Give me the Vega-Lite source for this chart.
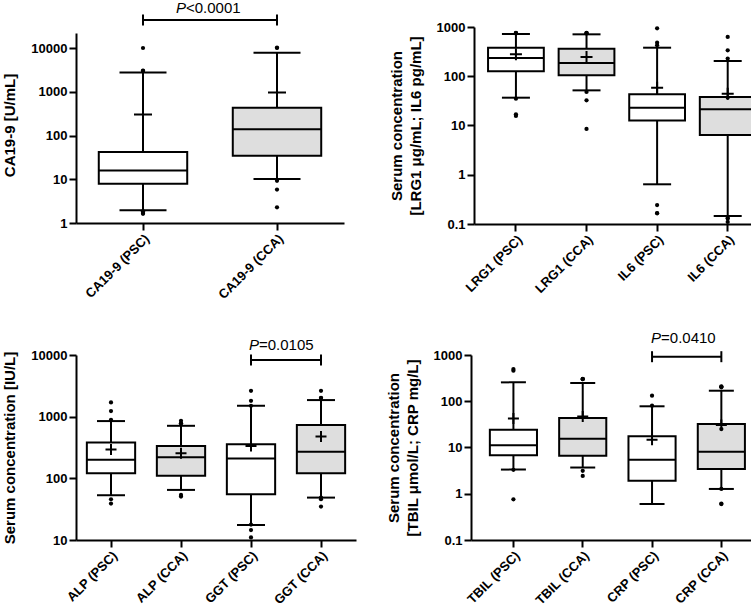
{
  "$schema": "https://vega.github.io/schema/vega-lite/v6.json",
  "padding": {"left": 2, "top": 0, "right": 0, "bottom": 0},
  "background": "white",
  "config": {
    "view": {"stroke": null},
    "font": "Liberation Sans",
    "axis": {
      "grid": false,
      "domainColor": "black", "domainWidth": 2,
      "tickColor": "black", "tickWidth": 2, "tickSize": 7,
      "labelColor": "black", "labelFont": "Liberation Sans", "labelFontWeight": "bold", "labelFontSize": 13, "labelPadding": 2,
      "titleColor": "black", "titleFont": "Liberation Sans", "titleFontWeight": "bold", "titleFontSize": 15, "titlePadding": 13, "titleLineHeight": 19
    },
    "axisX": {"labelAngle": -45, "labelPadding": 2, "labelFontSize": 13, "title": null}
  },
  "datasets": {
    "bx": [
      {"p": "A", "cat": "CA19-9 (PSC)", "grp": "PSC", "lo": 1.95, "q1": 7.9, "med": 15.9, "q3": 42, "hi": 2740, "mean": 301},
      {"p": "A", "cat": "CA19-9 (CCA)", "grp": "CCA", "lo": 10.1, "q1": 34.4, "med": 139, "q3": 428, "hi": 7830, "mean": 957},
      {"p": "B", "cat": "LRG1 (PSC)", "grp": "PSC", "lo": 36.7, "q1": 126, "med": 235, "q3": 380, "hi": 721, "mean": 279},
      {"p": "B", "cat": "LRG1 (CCA)", "grp": "CCA", "lo": 51.7, "q1": 104.5, "med": 186, "q3": 363, "hi": 710, "mean": 246},
      {"p": "B", "cat": "IL6 (PSC)", "grp": "PSC", "lo": 0.64, "q1": 12.7, "med": 23, "q3": 43, "hi": 380, "mean": 58.6},
      {"p": "B", "cat": "IL6 (CCA)", "grp": "CCA", "lo": 0.145, "q1": 6.4, "med": 21.3, "q3": 38, "hi": 204, "mean": 44.3},
      {"p": "C", "cat": "ALP (PSC)", "grp": "PSC", "lo": 53.2, "q1": 121, "med": 200, "q3": 381, "hi": 848, "mean": 294},
      {"p": "C", "cat": "ALP (CCA)", "grp": "CCA", "lo": 64.9, "q1": 110, "med": 220, "q3": 336, "hi": 711, "mean": 256},
      {"p": "C", "cat": "GGT (PSC)", "grp": "PSC", "lo": 17.5, "q1": 55, "med": 210, "q3": 358, "hi": 1503, "mean": 336},
      {"p": "C", "cat": "GGT (CCA)", "grp": "CCA", "lo": 48.7, "q1": 121, "med": 269, "q3": 730, "hi": 1858, "mean": 477},
      {"p": "D", "cat": "TBIL (PSC)", "grp": "PSC", "lo": 3.33, "q1": 6.8, "med": 11.2, "q3": 24.1, "hi": 256, "mean": 42.4},
      {"p": "D", "cat": "TBIL (CCA)", "grp": "CCA", "lo": 3.69, "q1": 6.6, "med": 15.4, "q3": 43.2, "hi": 248, "mean": 46.9},
      {"p": "D", "cat": "CRP (PSC)", "grp": "PSC", "lo": 0.6, "q1": 1.91, "med": 5.46, "q3": 17.5, "hi": 77.8, "mean": 14.8},
      {"p": "D", "cat": "CRP (CCA)", "grp": "CCA", "lo": 1.27, "q1": 3.43, "med": 8.1, "q3": 32.2, "hi": 169, "mean": 30.6}
    ],
    "ou": [
      {"p": "A", "cat": "CA19-9 (PSC)", "v": 10000}, {"p": "A", "cat": "CA19-9 (PSC)", "v": 3050}, {"p": "A", "cat": "CA19-9 (PSC)", "v": 3000},
      {"p": "A", "cat": "CA19-9 (PSC)", "v": 1.85}, {"p": "A", "cat": "CA19-9 (PSC)", "v": 1.7}, {"p": "A", "cat": "CA19-9 (PSC)", "v": 1.62},
      {"p": "A", "cat": "CA19-9 (CCA)", "v": 10200}, {"p": "A", "cat": "CA19-9 (CCA)", "v": 10000}, {"p": "A", "cat": "CA19-9 (CCA)", "v": 9.2},
      {"p": "A", "cat": "CA19-9 (CCA)", "v": 5.8}, {"p": "A", "cat": "CA19-9 (CCA)", "v": 2.28},
      {"p": "B", "cat": "LRG1 (PSC)", "v": 760}, {"p": "B", "cat": "LRG1 (PSC)", "v": 750}, {"p": "B", "cat": "LRG1 (PSC)", "v": 740},
      {"p": "B", "cat": "LRG1 (PSC)", "v": 35}, {"p": "B", "cat": "LRG1 (PSC)", "v": 16.9}, {"p": "B", "cat": "LRG1 (PSC)", "v": 15.6},
      {"p": "B", "cat": "LRG1 (CCA)", "v": 760}, {"p": "B", "cat": "LRG1 (CCA)", "v": 750}, {"p": "B", "cat": "LRG1 (CCA)", "v": 740},
      {"p": "B", "cat": "LRG1 (CCA)", "v": 48}, {"p": "B", "cat": "LRG1 (CCA)", "v": 32.4}, {"p": "B", "cat": "LRG1 (CCA)", "v": 8.5},
      {"p": "B", "cat": "IL6 (PSC)", "v": 942}, {"p": "B", "cat": "IL6 (PSC)", "v": 480}, {"p": "B", "cat": "IL6 (PSC)", "v": 425},
      {"p": "B", "cat": "IL6 (PSC)", "v": 0.243}, {"p": "B", "cat": "IL6 (PSC)", "v": 0.167}, {"p": "B", "cat": "IL6 (PSC)", "v": 0.165},
      {"p": "B", "cat": "IL6 (CCA)", "v": 627}, {"p": "B", "cat": "IL6 (CCA)", "v": 336}, {"p": "B", "cat": "IL6 (CCA)", "v": 228},
      {"p": "B", "cat": "IL6 (CCA)", "v": 37}, {"p": "B", "cat": "IL6 (CCA)", "v": 0.132}, {"p": "B", "cat": "IL6 (CCA)", "v": 0.13}, {"p": "B", "cat": "IL6 (CCA)", "v": 0.11},
      {"p": "C", "cat": "ALP (PSC)", "v": 1700}, {"p": "C", "cat": "ALP (PSC)", "v": 1230}, {"p": "C", "cat": "ALP (PSC)", "v": 890},
      {"p": "C", "cat": "ALP (PSC)", "v": 45.8}, {"p": "C", "cat": "ALP (PSC)", "v": 39},
      {"p": "C", "cat": "ALP (CCA)", "v": 857}, {"p": "C", "cat": "ALP (CCA)", "v": 780}, {"p": "C", "cat": "ALP (CCA)", "v": 776},
      {"p": "C", "cat": "ALP (CCA)", "v": 53.7}, {"p": "C", "cat": "ALP (CCA)", "v": 50.7},
      {"p": "C", "cat": "GGT (PSC)", "v": 2630}, {"p": "C", "cat": "GGT (PSC)", "v": 1811}, {"p": "C", "cat": "GGT (PSC)", "v": 1500},
      {"p": "C", "cat": "GGT (PSC)", "v": 17.8}, {"p": "C", "cat": "GGT (PSC)", "v": 14.5}, {"p": "C", "cat": "GGT (PSC)", "v": 11},
      {"p": "C", "cat": "GGT (CCA)", "v": 2630}, {"p": "C", "cat": "GGT (CCA)", "v": 2020}, {"p": "C", "cat": "GGT (CCA)", "v": 2000},
      {"p": "C", "cat": "GGT (CCA)", "v": 48.7}, {"p": "C", "cat": "GGT (CCA)", "v": 45.8}, {"p": "C", "cat": "GGT (CCA)", "v": 34.8},
      {"p": "D", "cat": "TBIL (PSC)", "v": 497}, {"p": "D", "cat": "TBIL (PSC)", "v": 458}, {"p": "D", "cat": "TBIL (PSC)", "v": 3.3}, {"p": "D", "cat": "TBIL (PSC)", "v": 0.76},
      {"p": "D", "cat": "TBIL (CCA)", "v": 305}, {"p": "D", "cat": "TBIL (CCA)", "v": 302}, {"p": "D", "cat": "TBIL (CCA)", "v": 300},
      {"p": "D", "cat": "TBIL (CCA)", "v": 3.13}, {"p": "D", "cat": "TBIL (CCA)", "v": 2.43},
      {"p": "D", "cat": "CRP (PSC)", "v": 132}, {"p": "D", "cat": "CRP (PSC)", "v": 80},
      {"p": "D", "cat": "CRP (CCA)", "v": 210}, {"p": "D", "cat": "CRP (CCA)", "v": 200}, {"p": "D", "cat": "CRP (CCA)", "v": 205},
      {"p": "D", "cat": "CRP (CCA)", "v": 25}, {"p": "D", "cat": "CRP (CCA)", "v": 1.27}, {"p": "D", "cat": "CRP (CCA)", "v": 0.6}, {"p": "D", "cat": "CRP (CCA)", "v": 0.61}
    ],
    "sg": [
      {"p": "A", "a": "CA19-9 (PSC)", "b": "CA19-9 (CCA)", "y": 43650, "ty": 63100, "label": "<0.0001"},
      {"p": "C", "a": "GGT (PSC)", "b": "GGT (CCA)", "y": 8300, "ty": 12050, "label": "=0.0105"},
      {"p": "D", "a": "CRP (PSC)", "b": "CRP (CCA)", "y": 919, "ty": 1820, "label": "=0.0410"}
    ]
  },
  "resolve": {"scale": {"x": "independent", "y": "independent"}},
  "spacing": 28,
  "vconcat": [
    {
      "hconcat": [
        {
          "width": 268, "height": 196,
          "layer": [
            {"data": {"name": "bx"}, "transform": [{"filter": "datum.p == 'A'"}], "mark": {"type": "rule", "color": "black", "strokeWidth": 2},
             "encoding": {
               "x": {"field": "cat", "type": "nominal", "scale": {"domain": ["CA19-9 (PSC)", "CA19-9 (CCA)"], "paddingInner": 0, "paddingOuter": 0}},
               "y": {"field": "lo", "type": "quantitative", "scale": {"type": "log", "domain": [1, 30200], "nice": false}, "axis": {"title": "CA19-9 [U/mL]", "values": [1, 10, 100, 1000, 10000], "format": "~g", "domainDash": [190, 60]}},
               "y2": {"field": "hi"}}},
            {"data": {"name": "bx"}, "transform": [{"filter": "datum.p == 'A'"}], "mark": {"type": "bar", "stroke": "black", "strokeWidth": 2, "width": {"band": 0.66}},
             "encoding": {"x": {"field": "cat", "type": "nominal"}, "y": {"field": "q1", "type": "quantitative"}, "y2": {"field": "q3"},
               "fill": {"field": "grp", "type": "nominal", "scale": {"domain": ["PSC", "CCA"], "range": ["#ffffff", "#dedede"]}, "legend": null}}},
            {"data": {"name": "bx"}, "transform": [{"filter": "datum.p == 'A'"}], "mark": {"type": "tick", "color": "black", "opacity": 1, "thickness": 2, "size": 88},
             "encoding": {"x": {"field": "cat", "type": "nominal"}, "y": {"field": "med", "type": "quantitative"}}},
            {"data": {"name": "bx"}, "transform": [{"filter": "datum.p == 'A'"}], "mark": {"type": "tick", "color": "black", "opacity": 1, "thickness": 2, "size": 47},
             "encoding": {"x": {"field": "cat", "type": "nominal"}, "y": {"field": "lo", "type": "quantitative"}}},
            {"data": {"name": "bx"}, "transform": [{"filter": "datum.p == 'A'"}], "mark": {"type": "tick", "color": "black", "opacity": 1, "thickness": 2, "size": 47},
             "encoding": {"x": {"field": "cat", "type": "nominal"}, "y": {"field": "hi", "type": "quantitative"}}},
            {"data": {"name": "bx"}, "transform": [{"filter": "datum.p == 'A'"}], "mark": {"type": "point", "shape": "M-1,0L1,0M0,-1L0,1", "filled": false, "color": "black", "opacity": 1, "strokeWidth": 2, "size": 324},
             "encoding": {"x": {"field": "cat", "type": "nominal"}, "y": {"field": "mean", "type": "quantitative"}}},
            {"data": {"name": "ou"}, "transform": [{"filter": "datum.p == 'A'"}], "mark": {"type": "circle", "color": "black", "opacity": 1, "size": 18},
             "encoding": {"x": {"field": "cat", "type": "nominal"}, "y": {"field": "v", "type": "quantitative"}}},
            {"data": {"name": "sg"}, "transform": [{"filter": "datum.p == 'A'"}], "mark": {"type": "rule", "color": "black", "strokeWidth": 2},
             "encoding": {"x": {"field": "a", "type": "nominal"}, "x2": {"field": "b"}, "y": {"field": "y", "type": "quantitative"}}},
            {"data": {"name": "sg"}, "transform": [{"filter": "datum.p == 'A'"}], "mark": {"type": "point", "shape": "M0,-1L0,1", "filled": false, "color": "black", "opacity": 1, "strokeWidth": 2, "size": 121},
             "encoding": {"x": {"field": "a", "type": "nominal"}, "y": {"field": "y", "type": "quantitative"}}},
            {"data": {"name": "sg"}, "transform": [{"filter": "datum.p == 'A'"}], "mark": {"type": "point", "shape": "M0,-1L0,1", "filled": false, "color": "black", "opacity": 1, "strokeWidth": 2, "size": 121},
             "encoding": {"x": {"field": "b", "type": "nominal"}, "y": {"field": "y", "type": "quantitative"}}},
            {"data": {"name": "sg"}, "transform": [{"filter": "datum.p == 'A'"}], "mark": {"type": "text", "text": "P", "fontStyle": "italic", "fontSize": 15, "align": "left", "baseline": "alphabetic", "dx": 33, "color": "black"},
             "encoding": {"x": {"field": "a", "type": "nominal"}, "y": {"field": "ty", "type": "quantitative"}}},
            {"data": {"name": "sg"}, "transform": [{"filter": "datum.p == 'A'"}], "mark": {"type": "text", "fontSize": 15, "align": "left", "baseline": "alphabetic", "dx": 43, "color": "black"},
             "encoding": {"x": {"field": "a", "type": "nominal"}, "y": {"field": "ty", "type": "quantitative"}, "text": {"field": "label"}}}
          ]
        },
        {
          "width": 289, "height": 197,
          "layer": [
            {"data": {"name": "bx"}, "transform": [{"filter": "datum.p == 'B'"}], "mark": {"type": "rule", "color": "black", "strokeWidth": 2},
             "encoding": {
               "x": {"field": "cat", "type": "nominal", "scale": {"domain": ["LRG1 (PSC)", "LRG1 (CCA)", "IL6 (PSC)", "IL6 (CCA)"], "paddingInner": 0, "paddingOuter": 0.047, "align": 1}},
               "y": {"field": "lo", "type": "quantitative", "scale": {"type": "log", "domain": [0.1, 1000], "nice": false}, "axis": {"title": ["Serum concentration", "[LRG1 μg/mL; IL6 pg/mL]"], "values": [0.1, 1, 10, 100, 1000], "format": "~g"}},
               "y2": {"field": "hi"}}},
            {"data": {"name": "bx"}, "transform": [{"filter": "datum.p == 'B'"}], "mark": {"type": "bar", "stroke": "black", "strokeWidth": 2, "width": {"band": 0.79}},
             "encoding": {"x": {"field": "cat", "type": "nominal"}, "y": {"field": "q1", "type": "quantitative"}, "y2": {"field": "q3"},
               "fill": {"field": "grp", "type": "nominal", "scale": {"domain": ["PSC", "CCA"], "range": ["#ffffff", "#dedede"]}, "legend": null}}},
            {"data": {"name": "bx"}, "transform": [{"filter": "datum.p == 'B'"}], "mark": {"type": "tick", "color": "black", "opacity": 1, "thickness": 2, "size": 56},
             "encoding": {"x": {"field": "cat", "type": "nominal"}, "y": {"field": "med", "type": "quantitative"}}},
            {"data": {"name": "bx"}, "transform": [{"filter": "datum.p == 'B'"}], "mark": {"type": "tick", "color": "black", "opacity": 1, "thickness": 2, "size": 28},
             "encoding": {"x": {"field": "cat", "type": "nominal"}, "y": {"field": "lo", "type": "quantitative"}}},
            {"data": {"name": "bx"}, "transform": [{"filter": "datum.p == 'B'"}], "mark": {"type": "tick", "color": "black", "opacity": 1, "thickness": 2, "size": 28},
             "encoding": {"x": {"field": "cat", "type": "nominal"}, "y": {"field": "hi", "type": "quantitative"}}},
            {"data": {"name": "bx"}, "transform": [{"filter": "datum.p == 'B'"}], "mark": {"type": "point", "shape": "M-1,0L1,0M0,-1L0,1", "filled": false, "color": "black", "opacity": 1, "strokeWidth": 2, "size": 144},
             "encoding": {"x": {"field": "cat", "type": "nominal"}, "y": {"field": "mean", "type": "quantitative"}}},
            {"data": {"name": "ou"}, "transform": [{"filter": "datum.p == 'B'"}], "mark": {"type": "circle", "color": "black", "opacity": 1, "size": 18},
             "encoding": {"x": {"field": "cat", "type": "nominal"}, "y": {"field": "v", "type": "quantitative"}}}
          ]
        }
      ],
      "spacing": 45,
      "bounds": "full",
      "resolve": {"scale": {"x": "independent", "y": "independent"}}
    },
    {
      "hconcat": [
        {
          "width": 280, "height": 185,
          "layer": [
            {"data": {"name": "bx"}, "transform": [{"filter": "datum.p == 'C'"}], "mark": {"type": "rule", "color": "black", "strokeWidth": 2},
             "encoding": {
               "x": {"field": "cat", "type": "nominal", "scale": {"domain": ["ALP (PSC)", "ALP (CCA)", "GGT (PSC)", "GGT (CCA)"], "paddingInner": 0, "paddingOuter": 0}},
               "y": {"field": "lo", "type": "quantitative", "scale": {"type": "log", "domain": [10, 10000], "nice": false}, "axis": {"title": "Serum concentration [IU/L]", "values": [10, 100, 1000, 10000], "format": "~g"}},
               "y2": {"field": "hi"}}},
            {"data": {"name": "bx"}, "transform": [{"filter": "datum.p == 'C'"}], "mark": {"type": "bar", "stroke": "black", "strokeWidth": 2, "width": {"band": 0.69}},
             "encoding": {"x": {"field": "cat", "type": "nominal"}, "y": {"field": "q1", "type": "quantitative"}, "y2": {"field": "q3"},
               "fill": {"field": "grp", "type": "nominal", "scale": {"domain": ["PSC", "CCA"], "range": ["#ffffff", "#dedede"]}, "legend": null}}},
            {"data": {"name": "bx"}, "transform": [{"filter": "datum.p == 'C'"}], "mark": {"type": "tick", "color": "black", "opacity": 1, "thickness": 2, "size": 48},
             "encoding": {"x": {"field": "cat", "type": "nominal"}, "y": {"field": "med", "type": "quantitative"}}},
            {"data": {"name": "bx"}, "transform": [{"filter": "datum.p == 'C'"}], "mark": {"type": "tick", "color": "black", "opacity": 1, "thickness": 2, "size": 28},
             "encoding": {"x": {"field": "cat", "type": "nominal"}, "y": {"field": "lo", "type": "quantitative"}}},
            {"data": {"name": "bx"}, "transform": [{"filter": "datum.p == 'C'"}], "mark": {"type": "tick", "color": "black", "opacity": 1, "thickness": 2, "size": 28},
             "encoding": {"x": {"field": "cat", "type": "nominal"}, "y": {"field": "hi", "type": "quantitative"}}},
            {"data": {"name": "bx"}, "transform": [{"filter": "datum.p == 'C'"}], "mark": {"type": "point", "shape": "M-1,0L1,0M0,-1L0,1", "filled": false, "color": "black", "opacity": 1, "strokeWidth": 2, "size": 121},
             "encoding": {"x": {"field": "cat", "type": "nominal"}, "y": {"field": "mean", "type": "quantitative"}}},
            {"data": {"name": "ou"}, "transform": [{"filter": "datum.p == 'C'"}], "mark": {"type": "circle", "color": "black", "opacity": 1, "size": 18},
             "encoding": {"x": {"field": "cat", "type": "nominal"}, "y": {"field": "v", "type": "quantitative"}}},
            {"data": {"name": "sg"}, "transform": [{"filter": "datum.p == 'C'"}], "mark": {"type": "rule", "color": "black", "strokeWidth": 2},
             "encoding": {"x": {"field": "a", "type": "nominal"}, "x2": {"field": "b"}, "y": {"field": "y", "type": "quantitative"}}},
            {"data": {"name": "sg"}, "transform": [{"filter": "datum.p == 'C'"}], "mark": {"type": "point", "shape": "M0,-1L0,1", "filled": false, "color": "black", "opacity": 1, "strokeWidth": 2, "size": 121},
             "encoding": {"x": {"field": "a", "type": "nominal"}, "y": {"field": "y", "type": "quantitative"}}},
            {"data": {"name": "sg"}, "transform": [{"filter": "datum.p == 'C'"}], "mark": {"type": "point", "shape": "M0,-1L0,1", "filled": false, "color": "black", "opacity": 1, "strokeWidth": 2, "size": 121},
             "encoding": {"x": {"field": "b", "type": "nominal"}, "y": {"field": "y", "type": "quantitative"}}},
            {"data": {"name": "sg"}, "transform": [{"filter": "datum.p == 'C'"}], "mark": {"type": "text", "text": "P", "fontStyle": "italic", "fontSize": 15, "align": "left", "baseline": "alphabetic", "dx": -2, "color": "black"},
             "encoding": {"x": {"field": "a", "type": "nominal"}, "y": {"field": "ty", "type": "quantitative"}}},
            {"data": {"name": "sg"}, "transform": [{"filter": "datum.p == 'C'"}], "mark": {"type": "text", "fontSize": 15, "align": "left", "baseline": "alphabetic", "dx": 8, "color": "black"},
             "encoding": {"x": {"field": "a", "type": "nominal"}, "y": {"field": "ty", "type": "quantitative"}, "text": {"field": "label"}}}
          ]
        },
        {
          "width": 285, "height": 185,
          "layer": [
            {"data": {"name": "bx"}, "transform": [{"filter": "datum.p == 'D'"}], "mark": {"type": "rule", "color": "black", "strokeWidth": 2},
             "encoding": {
               "x": {"field": "cat", "type": "nominal", "scale": {"domain": ["TBIL (PSC)", "TBIL (CCA)", "CRP (PSC)", "CRP (CCA)"], "paddingInner": 0, "paddingOuter": 0.056, "align": 1}},
               "y": {"field": "lo", "type": "quantitative", "scale": {"type": "log", "domain": [0.1, 1000], "nice": false}, "axis": {"title": ["Serum concentration", "[TBIL μmol/L; CRP mg/L]"], "values": [0.1, 1, 10, 100, 1000], "format": "~g"}},
               "y2": {"field": "hi"}}},
            {"data": {"name": "bx"}, "transform": [{"filter": "datum.p == 'D'"}], "mark": {"type": "bar", "stroke": "black", "strokeWidth": 2, "width": {"band": 0.68}},
             "encoding": {"x": {"field": "cat", "type": "nominal"}, "y": {"field": "q1", "type": "quantitative"}, "y2": {"field": "q3"},
               "fill": {"field": "grp", "type": "nominal", "scale": {"domain": ["PSC", "CCA"], "range": ["#ffffff", "#dedede"]}, "legend": null}}},
            {"data": {"name": "bx"}, "transform": [{"filter": "datum.p == 'D'"}], "mark": {"type": "tick", "color": "black", "opacity": 1, "thickness": 2, "size": 47},
             "encoding": {"x": {"field": "cat", "type": "nominal"}, "y": {"field": "med", "type": "quantitative"}}},
            {"data": {"name": "bx"}, "transform": [{"filter": "datum.p == 'D'"}], "mark": {"type": "tick", "color": "black", "opacity": 1, "thickness": 2, "size": 25},
             "encoding": {"x": {"field": "cat", "type": "nominal"}, "y": {"field": "lo", "type": "quantitative"}}},
            {"data": {"name": "bx"}, "transform": [{"filter": "datum.p == 'D'"}], "mark": {"type": "tick", "color": "black", "opacity": 1, "thickness": 2, "size": 25},
             "encoding": {"x": {"field": "cat", "type": "nominal"}, "y": {"field": "hi", "type": "quantitative"}}},
            {"data": {"name": "bx"}, "transform": [{"filter": "datum.p == 'D'"}], "mark": {"type": "point", "shape": "M-1,0L1,0M0,-1L0,1", "filled": false, "color": "black", "opacity": 1, "strokeWidth": 2, "size": 121},
             "encoding": {"x": {"field": "cat", "type": "nominal"}, "y": {"field": "mean", "type": "quantitative"}}},
            {"data": {"name": "ou"}, "transform": [{"filter": "datum.p == 'D'"}], "mark": {"type": "circle", "color": "black", "opacity": 1, "size": 18},
             "encoding": {"x": {"field": "cat", "type": "nominal"}, "y": {"field": "v", "type": "quantitative"}}},
            {"data": {"name": "sg"}, "transform": [{"filter": "datum.p == 'D'"}], "mark": {"type": "rule", "color": "black", "strokeWidth": 2},
             "encoding": {"x": {"field": "a", "type": "nominal"}, "x2": {"field": "b"}, "y": {"field": "y", "type": "quantitative"}}},
            {"data": {"name": "sg"}, "transform": [{"filter": "datum.p == 'D'"}], "mark": {"type": "point", "shape": "M0,-1L0,1", "filled": false, "color": "black", "opacity": 1, "strokeWidth": 2, "size": 121},
             "encoding": {"x": {"field": "a", "type": "nominal"}, "y": {"field": "y", "type": "quantitative"}}},
            {"data": {"name": "sg"}, "transform": [{"filter": "datum.p == 'D'"}], "mark": {"type": "point", "shape": "M0,-1L0,1", "filled": false, "color": "black", "opacity": 1, "strokeWidth": 2, "size": 121},
             "encoding": {"x": {"field": "b", "type": "nominal"}, "y": {"field": "y", "type": "quantitative"}}},
            {"data": {"name": "sg"}, "transform": [{"filter": "datum.p == 'D'"}], "mark": {"type": "text", "text": "P", "fontStyle": "italic", "fontSize": 15, "align": "left", "baseline": "alphabetic", "dx": -1, "color": "black"},
             "encoding": {"x": {"field": "a", "type": "nominal"}, "y": {"field": "ty", "type": "quantitative"}}},
            {"data": {"name": "sg"}, "transform": [{"filter": "datum.p == 'D'"}], "mark": {"type": "text", "fontSize": 15, "align": "left", "baseline": "alphabetic", "dx": 9, "color": "black"},
             "encoding": {"x": {"field": "a", "type": "nominal"}, "y": {"field": "ty", "type": "quantitative"}, "text": {"field": "label"}}}
          ]
        }
      ],
      "spacing": 115,
      "bounds": "flush",
      "resolve": {"scale": {"x": "independent", "y": "independent"}}
    }
  ]
}
